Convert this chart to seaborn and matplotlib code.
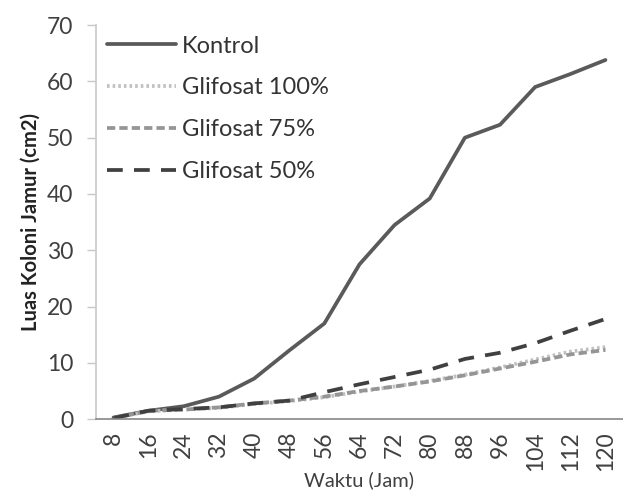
import numpy as np
import pandas as pd
import matplotlib
matplotlib.use("Agg")
import matplotlib.pyplot as plt
import seaborn as sns

waktu = ["8", "16", "24", "32", "40", "48", "56", "64", "72", "80", "88", "96", "104", "112", "120"]
kontrol = [0.3, 1.5, 2.3, 4.0, 7.2, 12.2, 17.0, 27.5, 34.5, 39.2, 50.0, 52.3, 59.0, 61.3, 63.8]
glifosat_100 = [0.2, 1.4, 1.7, 2.0, 2.7, 3.2, 3.9, 4.9, 5.8, 6.8, 7.9, 9.2, 10.6, 12.0, 12.8]
glifosat_75 = [0.2, 1.5, 1.7, 2.1, 2.8, 3.3, 4.0, 5.0, 5.8, 6.7, 7.8, 9.0, 10.2, 11.5, 12.3]
glifosat_50 = [0.2, 1.5, 1.8, 2.1, 2.8, 3.3, 4.8, 6.2, 7.5, 8.8, 10.7, 11.8, 13.5, 15.7, 17.8]

series = ["Kontrol", "Glifosat 100%", "Glifosat 75%", "Glifosat 50%"]
values = [kontrol, glifosat_100, glifosat_75, glifosat_50]

df = pd.DataFrame({
    "pos": np.tile(np.arange(len(waktu)), len(series)),
    "luas": np.concatenate(values),
    "seri": np.repeat(series, len(waktu)),
})

sns.set_theme(style="white")
plt.rcParams["font.family"] = ["Lato", "DejaVu Sans"]

palette = {"Kontrol": "#5a5a5a", "Glifosat 100%": "#c0c0c0",
           "Glifosat 75%": "#959595", "Glifosat 50%": "#404040"}
dashes = {"Kontrol": "", "Glifosat 100%": (0.7, 0.8),
          "Glifosat 75%": (2.2, 1.1), "Glifosat 50%": (4.2, 3.0)}

fig = plt.figure(figsize=(6.23, 4.92), dpi=100)
ax = fig.add_axes([0.154, 0.148, 0.846, 0.801])

sns.lineplot(data=df, x="pos", y="luas", hue="seri", style="seri",
             hue_order=series, style_order=series, palette=palette,
             dashes=dashes, linewidth=2.7, ax=ax)

ax.set_xlim(-0.5, len(waktu) - 0.5)
ax.set_ylim(0, 70)
ax.set_yticks(range(0, 71, 10))
ax.set_xticks(range(len(waktu)))
ax.set_xticklabels(waktu, rotation=90)
ax.tick_params(axis="y", length=6.5, width=1, color="#c8c8c8", direction="out",
               labelsize=16.5, labelcolor="#404040", left=True, pad=10)
ax.tick_params(axis="x", length=0, labelsize=16.5, labelcolor="#404040", pad=9)

for side in ("top", "right"):
    ax.spines[side].set_visible(False)
ax.spines["left"].set_color("#c8c8c8")
ax.spines["bottom"].set_color("#868686")
ax.spines["left"].set_linewidth(1.2)
ax.spines["bottom"].set_linewidth(1.2)

ax.set_xlabel("Waktu (Jam)", fontsize=14.5, color="#404040", labelpad=0)
ax.set_ylabel("Luas Koloni Jamur (cm2)", fontsize=14.5, color="#222222",
              fontweight="bold", labelpad=4)

leg = ax.legend(loc="upper left", bbox_to_anchor=(0.0, 1.0), frameon=False,
                fontsize=17, handlelength=2.95, handletextpad=0.25,
                labelspacing=0.88, borderpad=0.1, borderaxespad=0.35)
for txt in leg.get_texts():
    txt.set_color("#333333")

fig.savefig("out.png", dpi=100)
